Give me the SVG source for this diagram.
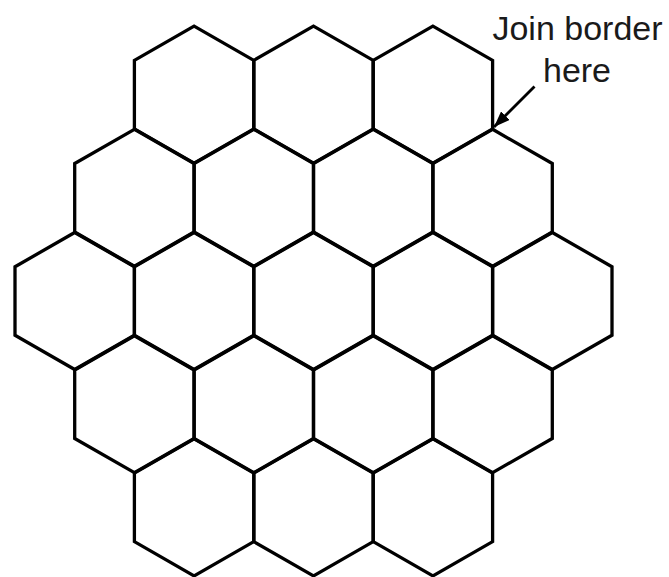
<svg xmlns="http://www.w3.org/2000/svg" width="669" height="577" viewBox="0 0 669 577">
<style>
.hex{fill:none;stroke:#000;stroke-width:3.3;stroke-linejoin:miter}
.lbl{font-family:"Liberation Sans",Arial,sans-serif;font-size:34px;fill:#1a1a1a;text-anchor:middle}
.arr{stroke:#000;stroke-width:2.8;fill:none}
</style>
<defs>
<path id="h" d="M0,-68.5 L59.7,-34.25 L59.7,34.25 L0,68.5 L-59.7,34.25 L-59.7,-34.25 Z"/>
<marker id="ah" markerUnits="userSpaceOnUse" markerWidth="17" markerHeight="12" refX="16" refY="6" orient="auto">
<path d="M0,0 L16,6 L0,12 Z" fill="#000"/>
</marker>
</defs>
<g id="hex-r0-c0"><use href="#h" class="hex" x="194.1" y="94.6"/></g>
<g id="hex-r0-c1"><use href="#h" class="hex" x="313.5" y="94.6"/></g>
<g id="hex-r0-c2"><use href="#h" class="hex" x="432.9" y="94.6"/></g>
<g id="hex-r1-c0"><use href="#h" class="hex" x="134.4" y="197.8"/></g>
<g id="hex-r1-c1"><use href="#h" class="hex" x="253.8" y="197.8"/></g>
<g id="hex-r1-c2"><use href="#h" class="hex" x="373.2" y="197.8"/></g>
<g id="hex-r1-c3"><use href="#h" class="hex" x="492.6" y="197.8"/></g>
<g id="hex-r2-c0"><use href="#h" class="hex" x="74.7" y="301"/></g>
<g id="hex-r2-c1"><use href="#h" class="hex" x="194.1" y="301"/></g>
<g id="hex-r2-c2"><use href="#h" class="hex" x="313.5" y="301"/></g>
<g id="hex-r2-c3"><use href="#h" class="hex" x="432.9" y="301"/></g>
<g id="hex-r2-c4"><use href="#h" class="hex" x="552.3" y="301"/></g>
<g id="hex-r3-c0"><use href="#h" class="hex" x="134.4" y="404.2"/></g>
<g id="hex-r3-c1"><use href="#h" class="hex" x="253.8" y="404.2"/></g>
<g id="hex-r3-c2"><use href="#h" class="hex" x="373.2" y="404.2"/></g>
<g id="hex-r3-c3"><use href="#h" class="hex" x="492.6" y="404.2"/></g>
<g id="hex-r4-c0"><use href="#h" class="hex" x="194.1" y="507.4"/></g>
<g id="hex-r4-c1"><use href="#h" class="hex" x="313.5" y="507.4"/></g>
<g id="hex-r4-c2"><use href="#h" class="hex" x="432.9" y="507.4"/></g>
<g id="label">
<text class="lbl" x="577.5" y="39.5">Join border</text>
<text class="lbl" x="577" y="81.5">here</text>
</g>
<g id="connectors">
<line class="arr" x1="534.5" y1="86.5" x2="494" y2="127" marker-end="url(#ah)"/>
</g>
</svg>
